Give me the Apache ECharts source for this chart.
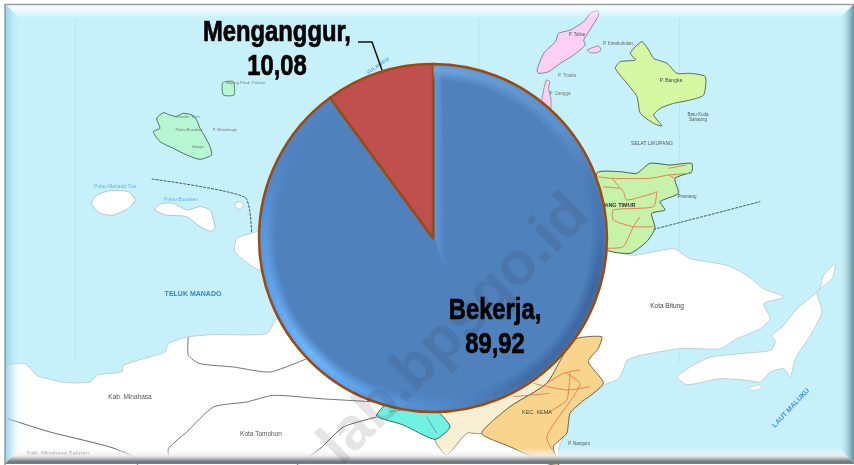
<!DOCTYPE html>
<html><head><meta charset="utf-8">
<style>html,body{margin:0;padding:0;background:#fff}#c{width:854px;height:465px;filter:blur(0.45px)}</style>
<script src="https://cdn.jsdelivr.net/npm/echarts@6/dist/echarts.min.js"></script></head>
<body><div id="c"></div>
<script>
var categories = ['Bekerja', 'Menganggur'];
var values = [89.92, 10.08];
var sliceColors = ['#4f81bd', '#c0504d'];

var cx = 433, cy = 238, R = 174;
var labelAnchors = [[495, 328], [277, 50]];

function zm(ox, oy, pts, s) { s = s || 3; return pts.map(function (p) { return [ox + p[0] / s, oy + p[1] / s]; }); }
function poly(points, fill, stroke, lw) {
  return { type: 'polygon', z: 0, silent: true, shape: { points: points, smooth: 0.2 }, style: { fill: fill, stroke: stroke || null, lineWidth: lw || 0 } };
}
function line(points, stroke, lw, dash) {
  return { type: 'polyline', z: 0, silent: true, shape: { points: points, smooth: 0.2 }, style: { fill: null, stroke: stroke, lineWidth: lw || 1, lineDash: dash || null, opacity: 0.9 } };
}
function txt(x, y, s, size, color, rot, bold) {
  return { type: 'text', z: 0, silent: true, x: x, y: y, rotation: rot || 0, style: { text: s, fontSize: size, fill: color || '#5b6166', fontFamily: 'Liberation Sans', fontWeight: bold ? 'bold' : 'normal', align: 'center', verticalAlign: 'middle' } };
}

var el = [];
el.push({ type: 'rect', z: 0, silent: true, shape: { x: 5, y: 4, width: 849, height: 460 }, style: { fill: '#c7f1fa' } });
[75, 478, 679].forEach(function (x) { el.push({ type: 'rect', z: 0, silent: true, shape: { x: x, y: 18, width: 1, height: 345 }, style: { fill: 'rgba(175,222,235,0.6)' } }); });
var coastL = zm(0, 232, [[-10, 398], [18, 398], [75, 395], [110, 430], [140, 440], [200, 452], [270, 450], [295, 428], [365, 420], [370, 400], [430, 380], [495, 360], [505, 335], [560, 315], [640, 308], [800, 305], [830, 262]]);
var coastR = zm(427, 232, [[540, 55], [620, 70], [740, 50], [790, 80], [900, 100], [960, 130], [1010, 170], [1072, 195], [1010, 215], [1030, 260], [1000, 290], [930, 320], [880, 350], [760, 350], [640, 370], [600, 385], [590, 410], [575, 440], [530, 460], [470, 510], [430, 540], [420, 590], [395, 650], [395, 699]]);
el.push(poly(coastL.concat([[433, 238]], coastR, [[-6, 470]]), '#fff', '#b9c4c8', 0.8));
el.push(poly(zm(0, 232, [[780, 0], [750, 5], [710, 20], [705, 60], [780, 115], [800, 60]]), '#fff', '#b5bfc3', 0.8));
el.push(poly(zm(427, 232, [[1225, 95], [1190, 130], [1175, 175], [1110, 230], [1065, 285], [1035, 310], [1045, 330], [1030, 355], [940, 365], [850, 375], [790, 405], [750, 435], [780, 458], [880, 440], [960, 445], [1000, 450], [1030, 420], [1070, 410], [1090, 435], [1105, 380], [1150, 310], [1185, 240], [1170, 180], [1215, 140]]), '#fff', '#b9c4c8', 0.8));
el.push(poly(zm(427, 232, [[965, 468], [1000, 458], [1002, 470], [975, 475]]), '#fff', '#b9c4c8', 0.6));
el.push(poly(zm(427, 0, [[510, 32], [515, 45], [495, 80], [470, 120], [475, 135], [440, 165], [400, 190], [365, 215], [335, 220], [330, 210], [350, 160], [385, 125], [395, 100], [430, 90], [470, 65], [490, 40]]), '#fcd0f4', '#4a4a4a', 0.6));
el.push(poly(zm(427, 0, [[480, 150], [515, 138], [522, 150], [510, 158], [490, 158]]), '#fcd0f4', '#4a4a4a', 0.5));
el.push(poly(zm(427, 0, [[358, 240], [368, 245], [365, 265], [372, 300], [370, 330], [345, 310], [350, 270]]), '#fcd0f4', '#4a4a4a', 0.5));
el.push(poly(zm(427, 0, [[645, 125], [665, 150], [680, 175], [720, 190], [750, 220], [790, 220], [835, 230], [830, 285], [790, 300], [740, 310], [700, 325], [680, 345], [705, 378], [680, 370], [640, 340], [630, 290], [600, 250], [565, 205], [580, 185], [625, 180], [610, 160], [625, 140]]), '#d6f8a2', '#3d4a35', 0.8));
el.push(poly(zm(0, 0, [[470, 355], [490, 338], [510, 345], [530, 350], [548, 340], [575, 345], [590, 360], [600, 385], [615, 410], [630, 440], [635, 465], [600, 478], [560, 465], [520, 445], [480, 425], [460, 395], [480, 385]]), '#b6f6d2', '#35503f', 0.8));
el.push(poly(zm(0, 0, [[668, 248], [700, 245], [702, 285], [670, 285]]), '#b6f6d2', '#35503f', 0.7));
el.push(poly(zm(0, 0, [[275, 610], [290, 585], [330, 572], [385, 575], [405, 600], [385, 625], [340, 645], [300, 640]]), '#fff', '#9fb0b5', 0.7));
el.push(poly(zm(0, 0, [[465, 630], [480, 612], [520, 610], [560, 630], [600, 620], [630, 630], [645, 680], [635, 695], [600, 680], [560, 650], [500, 645]]), '#fff', '#9fb0b5', 0.7));
el.push(poly(zm(0, 0, [[705, 610], [720, 605], [730, 615], [720, 628], [708, 622]]), '#fff', '#9fb0b5', 0.6));
el.push(poly(zm(540, 150, [[170, 70], [240, 65], [290, 70], [330, 40], [390, 45], [455, 40], [455, 65], [405, 85], [415, 130], [360, 155], [375, 180], [335, 190], [345, 235], [320, 275], [270, 310], [195, 295]]), '#c6f2aa', '#34503a', 0.9));
el.push(poly(zm(280, 170, [[880, 510], [800, 640], [690, 710], [605, 790], [560, 790], [500, 855], [465, 808], [510, 770], [470, 720], [700, 600]]), '#f8efd2', '#6e6a55', 0.7));
el.push(poly(zm(280, 170, [[965, 500], [955, 535], [925, 575], [970, 640], [900, 700], [870, 730], [860, 790], [820, 830], [835, 885], [800, 880], [690, 830], [605, 790], [690, 710], [800, 640], [880, 510]]), '#f8d48c', '#4c4430', 0.8));
el.push(poly(zm(280, 170, [[290, 738], [325, 700], [460, 715], [510, 770], [465, 808], [370, 765]]), '#6ff2e2', '#2c5a58', 0.9));
var road = '#e8764a';
[[[170, 80], [215, 85], [330, 85], [385, 75], [455, 70]], [[215, 85], [250, 125], [260, 150], [340, 130], [350, 125], [340, 170], [220, 180], [220, 210], [280, 230], [340, 230]], [[190, 110], [240, 115]], [[300, 200], [280, 230], [250, 290], [200, 295]], [[385, 55], [440, 45]], [[385, 75], [405, 85]]].forEach(function (l) { el.push(line(zm(540, 150, l), road, 1)); });
[[[860, 610], [900, 640], [880, 680], [800, 800], [830, 860]], [[760, 640], [860, 660], [930, 650]], [[800, 640], [850, 610], [900, 600]], [[870, 610], [860, 690], [800, 730]], [[700, 680], [810, 670]]].forEach(function (l) { el.push(line(zm(280, 170, l), road, 1)); });
[[[440, 740], [470, 790]], [[330, 725], [400, 715]]].forEach(function (l) { el.push(line(zm(280, 170, l), '#8a8a8a', 1)); });
el.push(line(zm(0, 232, [[565, 315], [565, 370], [600, 395], [700, 405], [810, 420], [920, 380]]), '#666', 1));
el.push(line(zm(0, 232, [[22, 560], [150, 600], [330, 645], [425, 685], [410, 699]]), '#555', 1));
el.push(line(zm(0, 232, [[1130, 510], [960, 500], [820, 490], [740, 510], [640, 525], [560, 600], [505, 650], [510, 680], [540, 695]]), '#666', 1));
el.push(line(zm(0, 232, [[1130, 555], [1030, 585], [960, 650], [890, 699]]), '#555', 1));
el.push(line(zm(0, 0, [[455, 537], [735, 592], [755, 699]]), '#3c4a52', 1, [3, 1]));
el.push(line(zm(427, 0, [[680, 688], [1000, 605]]), '#3c4a52', 1, [3, 1]));
el.push(txt(193, 294, 'TELUK MANADO', 7, '#2f86d6', 0, true));
el.push(txt(667, 306, 'Kota Bitung', 6.5, '#444'));
el.push(txt(130, 397, 'Kab. Minahasa', 6.5, '#555'));
el.push(txt(261, 434, 'Kota Tomohon', 6.5, '#555'));
el.push(txt(58, 453, 'Kab. Minahasa Selatan', 6, '#555'));
el.push(txt(791, 408, 'LAUT MALUKU', 7, '#3d94de', 0.82, true));
el.push(txt(537, 412, 'KEC. KEMA', 5.5, '#4a4a20', 0, false));
el.push(txt(671, 81, 'P. Bangka', 5, '#444'));
el.push(txt(652, 144, 'SELAT LIKUPANG', 5, '#555'));
el.push(txt(577, 35, 'P. Talise', 4.5, '#555'));
el.push(txt(567, 76, 'P. Tinaila', 4.5, '#777'));
el.push(txt(560, 94, 'P. Gangga', 4.5, '#777'));
el.push(txt(618, 44, 'P. Kinabuhutan', 4.5, '#666'));
el.push(txt(698, 117, 'Batu Kuda\nSahaung', 4.5, '#555'));
el.push(txt(687, 197, 'Pinenang', 4.5, '#555'));
el.push(txt(620, 205, 'ANG TIMUR', 5.5, '#333', 0, true));
el.push(txt(579, 444, 'P. Nanguni', 4.5, '#555'));
el.push(txt(115, 187, 'Pulau Manado Tua', 5, '#62b4ec'));
el.push(txt(181, 200, 'Pulau Bunaken', 5, '#62b4ec'));
el.push(txt(378, 66, 'SULAWESI', 5, '#62a8e4', 0.6, true));
el.push(txt(245, 83, 'Tanjung Pisok  Pulisan', 4, '#777'));
el.push(txt(188, 117, 'Tiwoho  Wori', 4, '#777'));
el.push(txt(189, 130, 'Pulau Bunaken', 4, '#777'));
el.push(txt(225, 130, 'P. Mantehage', 4, '#777'));
el.push(txt(198, 147, 'Bango', 4, '#777'));
function lin(x, y, x2, y2, a, b) { return { type: 'linear', x: x, y: y, x2: x2, y2: y2, colorStops: [{ offset: 0, color: a }, { offset: 1, color: b }] }; }
el.push({ type: 'polygon', z: 1, silent: true, shape: { points: [[5, 4], [854, 4], [840, 18], [19, 18]] }, style: { fill: lin(0, 0, 0, 1, '#ffffff', 'rgba(255,255,255,0.05)') } });
el.push({ type: 'polygon', z: 1, silent: true, shape: { points: [[5, 4], [19, 18], [19, 450], [5, 464]] }, style: { fill: lin(0, 0, 1, 0, 'rgba(140,205,230,0.9)', 'rgba(190,235,248,0.1)') } });
el.push({ type: 'polygon', z: 1, silent: true, shape: { points: [[854, 4], [854, 464], [840, 450], [840, 18]] }, style: { fill: lin(0, 0, 1, 0, 'rgba(190,235,248,0.05)', 'rgba(90,130,145,0.9)') } });
el.push({ type: 'polygon', z: 1, silent: true, shape: { points: [[5, 464], [19, 448], [840, 448], [854, 464]] }, style: { fill: { type: 'linear', x: 0, y: 0, x2: 0, y2: 1, colorStops: [{ offset: 0, color: 'rgba(255,255,255,0)' }, { offset: 0.5, color: 'rgba(235,235,235,0.9)' }, { offset: 0.85, color: 'rgba(110,120,125,1)' }, { offset: 1, color: 'rgba(120,125,130,1)' }] } } });
el.push({ type: 'rect', z: 1, silent: true, shape: { x: 0, y: 0, width: 5, height: 465 }, style: { fill: '#fff' } });
el.push({ type: 'rect', z: 1, silent: true, shape: { x: 5, y: 4.5, width: 860, height: 470 }, style: { fill: null, stroke: '#9a9c9e', lineWidth: 1.6 } });

var stops = [[-90, [150, 205, 255, .45]], [-40, [130, 185, 240, .3]], [-15, [50, 90, 150, .2]], [15, [25, 50, 100, .35]], [55, [25, 55, 110, .3]], [90, [90, 165, 245, .3]], [135, [110, 185, 255, 1]], [180, [100, 170, 250, .6]], [210, [90, 150, 220, .12]], [234, [90, 150, 220, .1]]];
function colAt(a) {
  for (var i = 0; i < stops.length - 1; i++) {
    if (a <= stops[i + 1][0]) {
      var t = (a - stops[i][0]) / (stops[i + 1][0] - stops[i][0]);
      return stops[i][1].map(function (v, k) { return v + (stops[i + 1][1][k] - v) * t; });
    }
  }
  return stops[stops.length - 1][1];
}
function rgba(c, m) { return 'rgba(' + Math.round(c[0]) + ',' + Math.round(c[1]) + ',' + Math.round(c[2]) + ',' + (c[3] * m) + ')'; }
var rr = R - 1.5;
for (var a = -90; a < 233; a += 3) {
  var c = colAt(a + 1.5);
  el.push({
    type: 'sector', z: 3, silent: true,
    shape: { cx: cx, cy: cy, r: rr, r0: rr * 0.91, startAngle: a * Math.PI / 180, endAngle: (a + 3) * Math.PI / 180 },
    style: { fill: { type: 'radial', x: cx, y: cy, r: rr, global: true, colorStops: [{ offset: 0.91, color: rgba(c, 0) }, { offset: 0.97, color: rgba(c, 1) }, { offset: 1, color: rgba(c, 0.8) }] } }
  });
}
el.push({ type: 'polygon', z: 3, silent: true, shape: { points: [[435, 66], [441, 68], [446, 275], [435, 238]] }, style: { fill: lin(0, 0, 1, 0, 'rgba(105,165,235,0.6)', 'rgba(105,165,235,0)') } });
el.push({ type: 'text', z: 4, silent: true, x: 455, y: 330, rotation: Math.PI / 4, style: { text: 'lab.bpsgo.id', fontSize: 60, fontWeight: 'bold', fontFamily: 'Liberation Sans', fill: 'rgba(40,40,50,0.12)', align: 'center', verticalAlign: 'middle' } });

categories.forEach(function (n, i) {
  el.push({
    type: 'text', z: 5, silent: true, x: labelAnchors[i][0], y: labelAnchors[i][1], scaleX: 0.82,
    style: { text: n + ',\n' + String(values[i]).replace('.', ','), fontSize: 29, lineHeight: 34, fontWeight: 'bold', fontFamily: 'Liberation Sans', fill: '#000', stroke: '#000', lineWidth: 0.7, align: 'center', verticalAlign: 'middle' }
  });
});
el.push({ type: 'polyline', z: 5, silent: true, shape: { points: [[358, 42], [372, 42], [382, 70]] }, style: { fill: null, stroke: '#111', lineWidth: 1.5 } });

var chart = echarts.init(document.getElementById('c'));
chart.setOption({
  animation: false,
  backgroundColor: '#fff',
  graphic: { elements: el },
  series: [{
    type: 'pie', z: 2,
    center: [cx, cy], radius: [0, R],
    startAngle: 90, clockwise: true,
    data: categories.map(function (n, i) { return { name: n, value: values[i], itemStyle: { color: sliceColors[i] } }; }),
    itemStyle: { borderColor: '#9c4a10', borderWidth: 2.5 },
    emphasis: { disabled: true },
    label: { show: false },
    labelLine: { show: false }
  }]
});
</script></body></html>
